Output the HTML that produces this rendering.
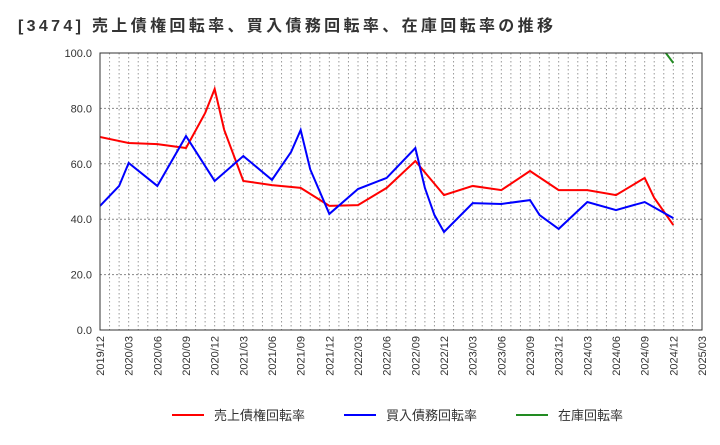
<!DOCTYPE html>
<html><head><meta charset="utf-8"><style>
body{margin:0;background:#fff;font-family:"Liberation Sans","Noto Sans CJK JP",sans-serif}
</style></head><body>
<svg id="c" width="720" height="440" xmlns="http://www.w3.org/2000/svg" font-family="Liberation Sans, Noto Sans CJK JP, sans-serif"></svg>
<script>
const tickLabels=["2019/12","2020/03","2020/06","2020/09","2020/12","2021/03","2021/06","2021/09","2021/12","2022/03","2022/06","2022/09","2022/12","2023/03","2023/06","2023/09","2023/12","2024/03","2024/06","2024/09","2024/12","2025/03"];
const yTicks=[0,20,40,60,80,100];
const redMonths=[0,3,6,9,11,12,13,15,18,21,24,27,30,33,36,39,42,45,48,51,54,57,58,60];
const redValues=[69.7,67.5,67.1,65.7,78.3,87,72.2,53.8,52.3,51.3,44.8,45.1,51.3,61,48.7,52,50.5,57.4,50.5,50.5,48.7,54.9,47.7,37.9];
const blueMonths=[0,2,3,6,9,12,15,18,20,21,22,24,27,30,33,34,35,36,39,42,45,46,48,51,54,57,60];
const blueValues=[44.8,52,60.3,52,70,53.8,62.8,54.2,64.3,72.2,58,41.9,50.9,54.9,65.7,51.3,41.5,35.4,45.8,45.5,46.9,41.5,36.5,46.2,43.3,46.2,40.4];
const greenMonths=[59,60];
const greenValues=[101,96.4];
const svg=document.getElementById('c');const NS='http://www.w3.org/2000/svg';
const L=100,R=702,T=53,B=330;
const xs=m=>L+(R-L)*m/63, ys=v=>B-(B-T)*v/100;
function el(t,a,p){const e=document.createElementNS(NS,t);for(const k in a)e.setAttribute(k,a[k]);(p||svg).appendChild(e);return e;}
const title=el('text',{x:18,y:31,'font-size':16,'font-weight':'bold',fill:'#333',textLength:535,lengthAdjust:'spacing'});title.textContent='[3474]  売上債権回転率、買入債務回転率、在庫回転率の推移';


const grid=el('g',{});


for(let m=1;m<63;m++)el('line',{x1:xs(m),x2:xs(m),y1:T,y2:B,stroke:'#999','stroke-dasharray':'1.5,2.5','stroke-width':1},grid);
yTicks.forEach(v=>{if(v>0&&v<100)el('line',{x1:L,x2:R,y1:ys(v),y2:ys(v),stroke:'#888','stroke-dasharray':'2,2','stroke-width':1},grid);
const t=el('text',{x:L-8,y:ys(v)+4,'font-size':11,'text-anchor':'end',fill:'#333'});t.textContent=v.toFixed(1);

});
tickLabels.forEach((s,i)=>{const x=xs(i*3);const t=el('text',{x:x+4,y:B+6,'font-size':11,'text-anchor':'end',fill:'#333',transform:`rotate(-90 ${x+4} ${B+6})`});t.textContent=s;

});
const clip=el('clipPath',{id:'pc'});el('rect',{x:L,y:T,width:R-L,height:B-T},clip);
function line(ms,vs,col,name){const p=el('polyline',{points:ms.map((m,i)=>xs(m)+','+ys(vs[i])).join(' '),fill:'none',stroke:col,'stroke-width':2,'clip-path':'url(#pc)'});

}
line(redMonths,redValues,'#ff0000','receivables-turnover-line');
line(blueMonths,blueValues,'#0000ff','payables-turnover-line');
line(greenMonths,greenValues,'#228b22','inventory-turnover-line');
el('rect',{x:L,y:T,width:R-L,height:B-T,fill:'none',stroke:'#333','stroke-width':1});
const leg=[['売上債権回転率','#ff0000',172],['買入債務回転率','#0000ff',344],['在庫回転率','#228b22',516]];
leg.forEach(([n,c,x])=>{const g=el('g',{});


el('line',{x1:x,x2:x+32,y1:415,y2:415,stroke:c,'stroke-width':2},g);
const t=el('text',{x:x+42,y:420,'font-size':13,fill:'#333'},g);t.textContent=n;});
</script>
</body></html>
